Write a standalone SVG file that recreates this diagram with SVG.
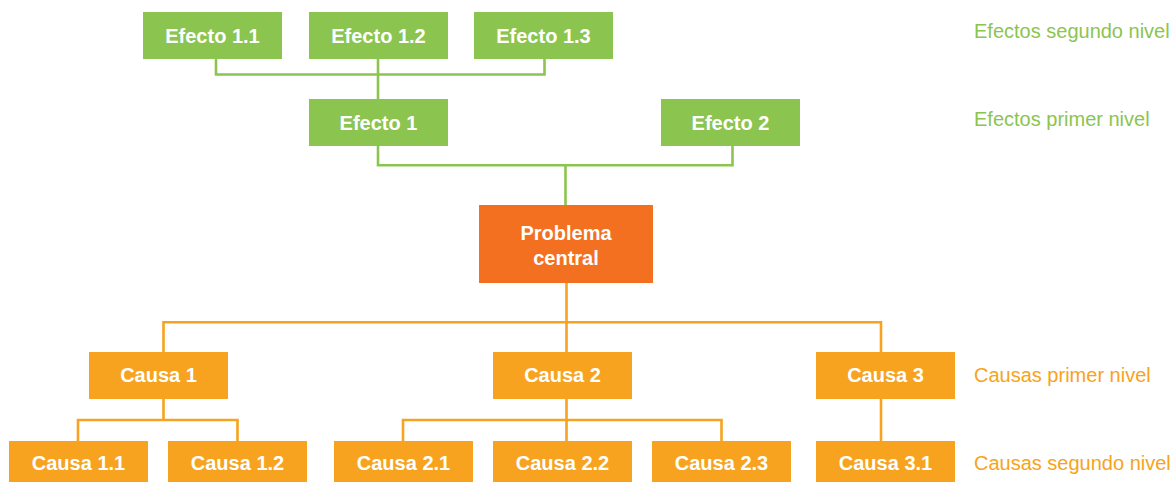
<svg xmlns="http://www.w3.org/2000/svg" width="1172" height="482" viewBox="0 0 1172 482">
<style>
.g{fill:#8BC550}
.p{fill:#F37021}
.o{fill:#F7A320}
.t{font-family:"Liberation Sans",Arial,sans-serif;font-size:20px;font-weight:bold;fill:#ffffff;text-anchor:middle}
.lg{font-family:"Liberation Sans",Arial,sans-serif;font-size:20px;fill:#8BC550}
.lo{font-family:"Liberation Sans",Arial,sans-serif;font-size:20px;fill:#F7A320}
.cg{fill:none;stroke:#8BC550;stroke-width:2.6}
.co{fill:none;stroke:#F7A320;stroke-width:2.6}
</style>
<rect width="1172" height="482" fill="#ffffff"/>
<g id="connectors">
<path class="cg" d="M216 59V74.5H544.5V59M378 59V99"/>
<path class="cg" d="M378 146V165.3H732.5V146M565.5 165.3V205"/>
<path class="co" d="M566.5 283V352M163.5 352V322.3H881V352"/>
<path class="co" d="M163.5 399V420M78 441V420H237.5V441"/>
<path class="co" d="M566.5 399V441M403 441V420H721.5V441"/>
<path class="co" d="M881 399V441"/>
</g>
<g id="efecto11"><rect class="g" x="143" y="12" width="139" height="47"/><text class="t" x="212.5" y="42.5">Efecto 1.1</text></g>
<g id="efecto12"><rect class="g" x="309" y="12" width="139" height="47"/><text class="t" x="378.5" y="42.5">Efecto 1.2</text></g>
<g id="efecto13"><rect class="g" x="474" y="12" width="139" height="47"/><text class="t" x="543.5" y="42.5">Efecto 1.3</text></g>
<g id="efecto1"><rect class="g" x="309" y="99" width="139" height="47"/><text class="t" x="378.5" y="129.5">Efecto 1</text></g>
<g id="efecto2"><rect class="g" x="661" y="99" width="139" height="47"/><text class="t" x="730.5" y="129.5">Efecto 2</text></g>
<g id="problema"><rect class="p" x="479" y="205" width="174" height="78"/><text class="t" x="566" y="239.5">Problema</text><text class="t" x="566" y="265">central</text></g>
<g id="causa1"><rect class="o" x="89" y="352" width="139" height="47"/><text class="t" x="158.5" y="382">Causa 1</text></g>
<g id="causa2"><rect class="o" x="493" y="352" width="139" height="47"/><text class="t" x="562.5" y="382">Causa 2</text></g>
<g id="causa3"><rect class="o" x="816" y="352" width="139" height="47"/><text class="t" x="885.5" y="382">Causa 3</text></g>
<g id="causa11"><rect class="o" x="9" y="441" width="139" height="47"/><text class="t" x="78.5" y="470">Causa 1.1</text></g>
<g id="causa12"><rect class="o" x="168" y="441" width="139" height="47"/><text class="t" x="237.5" y="470">Causa 1.2</text></g>
<g id="causa21"><rect class="o" x="334" y="441" width="139" height="47"/><text class="t" x="403.5" y="470">Causa 2.1</text></g>
<g id="causa22"><rect class="o" x="493" y="441" width="139" height="47"/><text class="t" x="562.5" y="470">Causa 2.2</text></g>
<g id="causa23"><rect class="o" x="652" y="441" width="139" height="47"/><text class="t" x="721.5" y="470">Causa 2.3</text></g>
<g id="causa31"><rect class="o" x="816" y="441" width="139" height="47"/><text class="t" x="885.5" y="470">Causa 3.1</text></g>
<g id="labels">
<text class="lg" x="974" y="38">Efectos segundo nivel</text>
<text class="lg" x="974" y="125.5">Efectos primer nivel</text>
<text class="lo" x="974" y="382">Causas primer nivel</text>
<text class="lo" x="974" y="469.5">Causas segundo nivel</text>
</g>
</svg>
